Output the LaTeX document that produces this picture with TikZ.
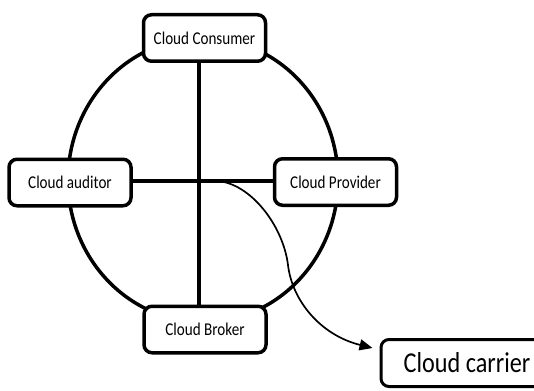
\documentclass[tikz,border=0pt]{standalone}
\usepackage{fontspec}
\usetikzlibrary{arrows.meta}
\newfontfamily\boxfont[FakeStretch=0.84]{Carlito}
\begin{document}
\begin{tikzpicture}[x=1pt,y=-1pt,
  role/.style={draw=black, line width=3.5pt, rounded corners=8pt, fill=white,
    inner sep=0pt, minimum width=122pt, minimum height=46.5pt,
    font=\boxfont\fontsize{18}{20}\selectfont},
  bigrole/.style={draw=black, line width=3pt, rounded corners=8pt, fill=white,
    inner sep=0pt, minimum width=172pt, minimum height=47pt,
    font=\boxfont\fontsize{28.8}{30}\selectfont},
  thick line/.style={line width=3.5pt},
  flow/.style={line width=1.7pt, -{Triangle[length=13pt,width=11pt]}}]
\useasboundingbox (0,0) rectangle (534,390);
\clip (0,0) rectangle (534,390);

% ring joining the four roles
\draw[thick line] (203,180) ellipse [x radius=135pt, y radius=142pt];

% crossing point of the two axes
\coordinate (hub) at (199,181);

\node[role] (consumer) at (204.5,38) {Cloud Consumer};
\node[role] (auditor) at (70,182.5) {Cloud auditor};
\node[role] (provider) at (335.5,182) {Cloud Provider};
\node[role] (broker) at (205,329.5) {Cloud Broker};
\node[bigrole] (carrier) at (467,363) {Cloud carrier};

% axes
\draw[thick line] (hub |- consumer.south) -- (hub |- broker.north);
\draw[thick line] (auditor.east |- hub) -- (provider.west |- hub);

% curved link down to the carrier
\coordinate (tap) at (217,181);
\coordinate (entry) at ([xshift=-7pt,yshift=-10pt]carrier.north west);
\draw[flow] (tap) .. controls (250,183) and (283,225) .. (288,265)
  .. controls (292,300) and (320,335) .. (entry);
\end{tikzpicture}
\end{document}
